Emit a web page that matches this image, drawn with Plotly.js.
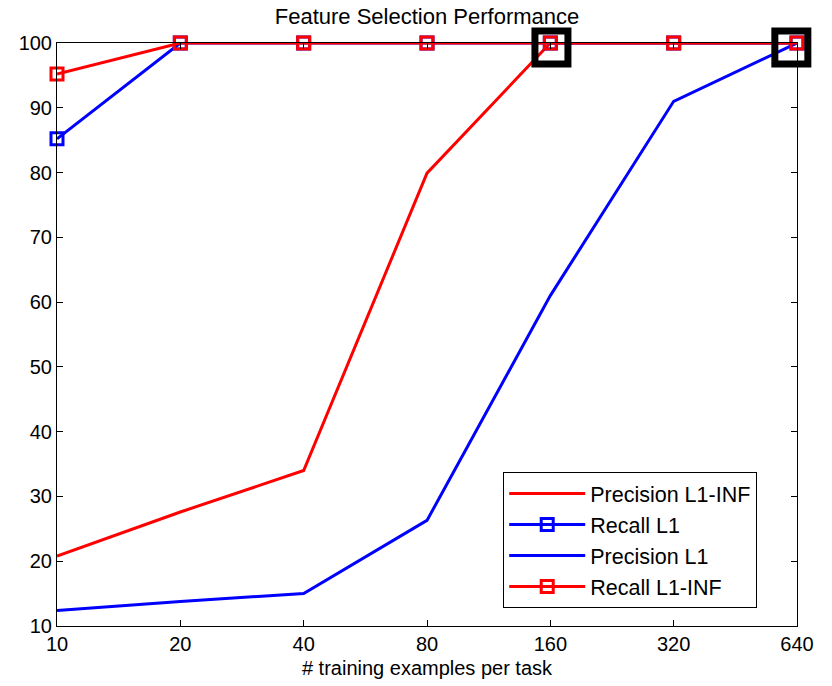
<!DOCTYPE html>
<html>
<head>
<meta charset="utf-8">
<script src="https://cdn.plot.ly/plotly-3.0.1.min.js"></script>
<style>html,body{margin:0;padding:0;background:#fff;}#chart{width:832px;height:686px;}</style>
</head>
<body>
<div id="chart"></div>
<script>
// Data
const examples = [10, 20, 40, 80, 160, 320, 640];
const tickLabels = ['10', '20', '40', '80', '160', '320', '640'];
const precisionL1INF = [20.8, 27.6, 34.0, 79.9, 100, 100, 100];
const recallL1 = [85.2, 100, 100, 100, 100, 100, 100];
const precisionL1 = [12.4, 13.8, 15.0, 26.3, 61.0, 91.0, 100];
const recallL1INF = [95.2, 100, 100, 100, 100, 100, 100];
const highlightX = [161, 620];
const highlightY = [99.3, 99.3];

const RED = '#ff0000', BLUE = '#0000ff';
const FONT = 'Liberation Sans, Arial, Helvetica, sans-serif';

const traces = [
  {x: examples, y: precisionL1INF, name: 'Precision L1-INF', mode: 'lines', legendgroup: 'a',
   cliponaxis: false, line: {color: RED, width: 3}},
  {x: examples, y: recallL1, name: 'Recall L1', mode: 'lines+markers', legendgroup: 'b',
   cliponaxis: false, line: {color: BLUE, width: 3},
   marker: {symbol: 'square-open', size: 12, color: BLUE, line: {color: BLUE, width: 3}}},
  {x: examples, y: precisionL1, name: 'Precision L1', mode: 'lines', legendgroup: 'c',
   cliponaxis: false, line: {color: BLUE, width: 3}},
  {x: examples, y: recallL1INF, name: 'Recall L1-INF', mode: 'lines+markers', legendgroup: 'd',
   cliponaxis: false, line: {color: RED, width: 3},
   marker: {symbol: 'square-open', size: 12, color: RED, line: {color: RED, width: 3}}},
  {x: highlightX, y: highlightY, mode: 'markers', showlegend: false, hoverinfo: 'skip',
   cliponaxis: false,
   marker: {symbol: 'square-open', size: 33, color: '#000', line: {color: '#000', width: 7}}}
];

const layout = {
  width: 832, height: 686,
  margin: {l: 57, r: 35, t: 43, b: 60, pad: 0},
  paper_bgcolor: '#fff', plot_bgcolor: '#fff',
  font: {family: FONT, size: 20, color: '#000'},
  title: {text: 'Feature Selection Performance', font: {family: FONT, size: 22, color: '#000'},
          x: 0.5, xref: 'paper', xanchor: 'center', y: 0.976, yref: 'container', yanchor: 'middle'},
  xaxis: {
    type: 'log', range: [Math.log10(10), Math.log10(640)],
    tickmode: 'array', tickvals: examples, ticktext: tickLabels,
    ticks: 'inside', ticklen: 6, tickwidth: 1, tickcolor: '#000',
    showline: true, linecolor: '#000', linewidth: 1, mirror: 'ticks',
    showgrid: false, zeroline: false,
    tickfont: {family: FONT, size: 20, color: '#000'},
    title: {text: '# training examples per task', font: {family: FONT, size: 20, color: '#000'}, standoff: 6}
  },
  yaxis: {
    range: [10, 100], tickmode: 'linear', tick0: 10, dtick: 10,
    ticks: 'inside', ticklen: 6, tickwidth: 1, tickcolor: '#000',
    showline: true, linecolor: '#000', linewidth: 1, mirror: 'ticks',
    showgrid: false, zeroline: false,
    tickfont: {family: FONT, size: 20, color: '#000'}
  },
  legend: {
    x: 0.603, y: 0.264, xanchor: 'left', yanchor: 'top',
    bgcolor: '#fff', bordercolor: '#000', borderwidth: 1,
    font: {family: FONT, size: 21.5, color: '#000'},
    traceorder: 'grouped', tracegroupgap: 0, itemwidth: 76
  },
  showlegend: true
};

Plotly.newPlot('chart', traces, layout, {staticPlot: true, displayModeBar: false});
</script>
</body>
</html>
